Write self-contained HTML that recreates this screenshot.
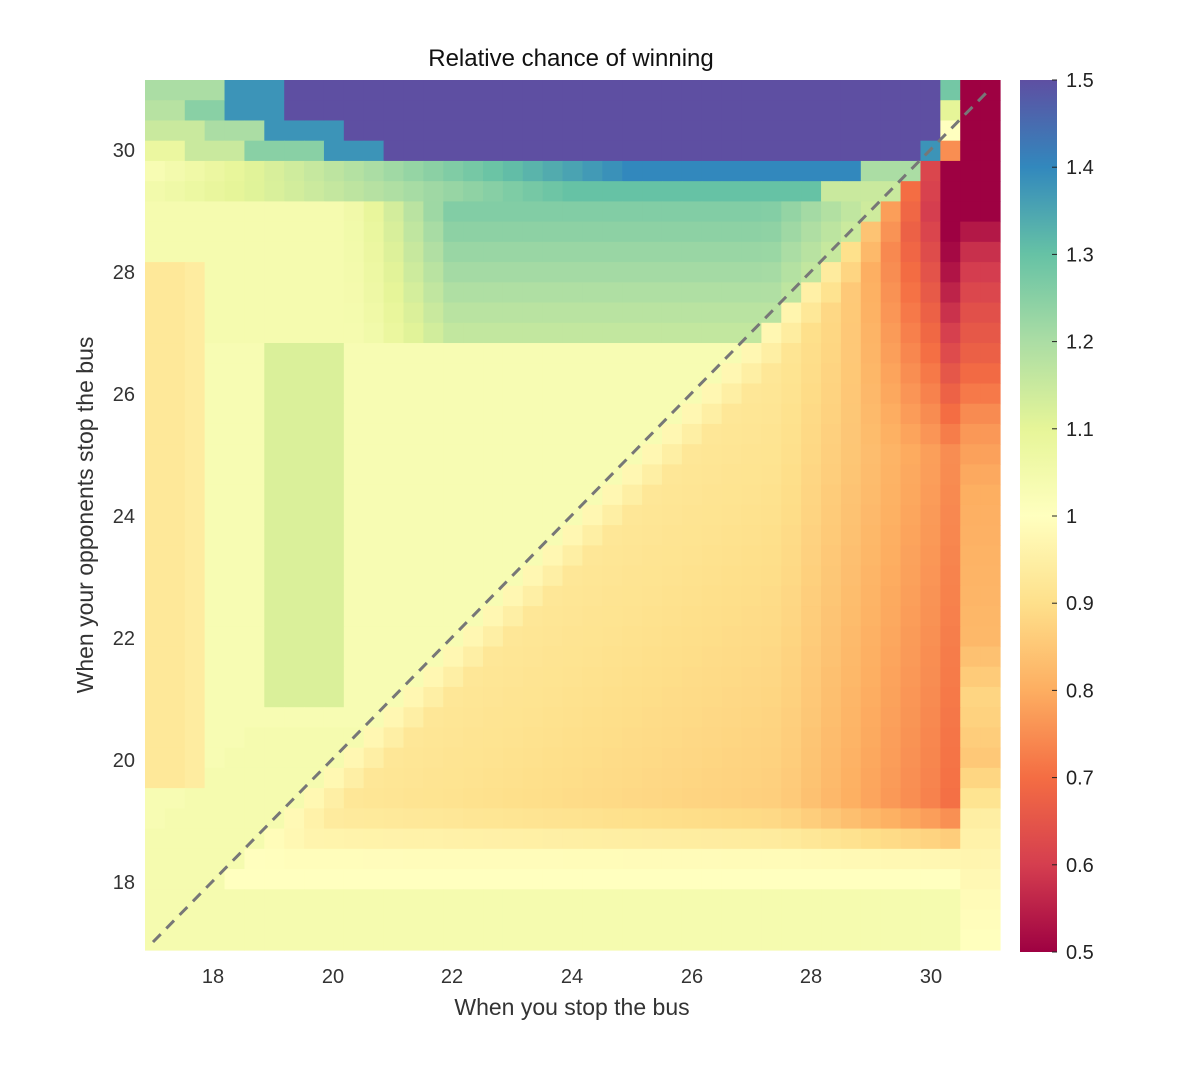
<!DOCTYPE html>
<html><head><meta charset="utf-8"><style>
body{margin:0;background:#fff;width:1200px;height:1070px;overflow:hidden;font-family:"Liberation Sans",sans-serif;}
</style></head><body>
<svg id="s" width="1200" height="1070" xmlns="http://www.w3.org/2000/svg">
<defs><linearGradient id="cb" x1="0" y1="1" x2="0" y2="0">
<stop offset="0" stop-color="#9e0142"/><stop offset="0.1" stop-color="#d53e4f"/><stop offset="0.2" stop-color="#f46d43"/><stop offset="0.3" stop-color="#fdae61"/><stop offset="0.4" stop-color="#fee08b"/><stop offset="0.5" stop-color="#ffffbf"/><stop offset="0.6" stop-color="#e6f598"/><stop offset="0.7" stop-color="#abdda4"/><stop offset="0.8" stop-color="#66c2a5"/><stop offset="0.9" stop-color="#3288bd"/><stop offset="1" stop-color="#5e4fa2"/>
</linearGradient></defs>
<g id="cells"></g>
<line x1="153" y1="942" x2="990" y2="89" stroke="#777" stroke-width="3" stroke-dasharray="11,8"/>
<text x="571" y="66" font-size="24" text-anchor="middle" fill="#111">Relative chance of winning</text>
<rect x="1020" y="80" width="37" height="872" fill="url(#cb)"/>
<g font-size="20" fill="#333" text-anchor="middle">
<text x="213" y="983">18</text><text x="333" y="983">20</text><text x="452" y="983">22</text><text x="572" y="983">24</text><text x="692" y="983">26</text><text x="811" y="983">28</text><text x="931" y="983">30</text>
</g>
<g font-size="20" fill="#333" text-anchor="end">
<text x="135" y="157">30</text><text x="135" y="279">28</text><text x="135" y="401">26</text><text x="135" y="523">24</text><text x="135" y="645">22</text><text x="135" y="767">20</text><text x="135" y="889">18</text>
</g>
<text x="572" y="1015" font-size="23" text-anchor="middle" fill="#333">When you stop the bus</text>
<text transform="translate(93,515) rotate(-90)" font-size="23" text-anchor="middle" fill="#333">When your opponents stop the bus</text>
<g font-size="20" fill="#222" id="cbt"></g>
</svg>
<script>
var stops=[[158,1,66],[213,62,79],[244,109,67],[253,174,97],[254,224,139],[255,255,191],[230,245,152],[171,221,164],[102,194,165],[50,136,189],[94,79,162]];
function col(v){var t=Math.max(0,Math.min(1,v-0.5))*10;var i=Math.min(9,Math.floor(t)),f=t-i;var a=stops[i],b=stops[i+1];
return 'rgb('+Math.round(a[0]+(b[0]-a[0])*f)+','+Math.round(a[1]+(b[1]-a[1])*f)+','+Math.round(a[2]+(b[2]-a[2])*f)+')';}
function cl(a,b,c){return Math.max(b,Math.min(c,a));}
function val(i,j,x,y){
 if(j==0){if(x<18.3)return 1.2;if(x<19.3)return 1.38;if(x<30.1)return 1.5;if(x<30.5)return 1.28;return 0.5;}
 if(j==1){if(x<17.6)return 1.18;if(x<18.3)return 1.25;if(x<19.3)return 1.38;if(x<30.1)return 1.5;if(x<30.5)return 1.1;return 0.5;}
 if(j==2){if(x<18)return 1.15;if(x<19)return 1.2;if(x<20.3)return 1.38;if(x<30.1)return 1.5;if(x<30.5)return 1.0;return 0.5;}
 if(j==3){if(x<17.5)return 1.08;if(x<18.5)return 1.15;if(x<20)return 1.25;if(x<21)return 1.38;if(x<29.8)return 1.5;if(x<30.1)return 1.38;if(x<30.5)return 0.75;return 0.5;}
 if(x>30.5){var r=[[31,0.5],[29,0.5],[28.3,0.58],[27.5,0.63],[26.5,0.68],[25.5,0.76],[24.5,0.8],[22,0.82],[21,0.88],[20,0.85],[19,0.95],[18,0.98],[16,1.02]];
  for(var k=0;k<r.length-1;k++){if(y<=r[k][0]&&y>=r[k+1][0]){var f=(y-r[k+1][0])/(r[k][0]-r[k+1][0]);return r[k+1][1]+(r[k][1]-r[k+1][1])*f;}}return 1;}
 var d=x-y,v;
 if(d>0.2){
  v=1-Math.min(d,1)*0.07-0.008*d-0.045*Math.max(0,x-27.5)-0.035*Math.max(0,y-25)*Math.max(0,x-28.5);
  if(x>30.1) v-=0.01+0.05*cl((y-25)/3,0,1);
  var f=cl((y-18.3)/0.9,0,1); v=1-(1-v)*f;
  if(y<18)v=1.04;
 } else {
  v=1.03;
  if(j==4){v=1.03+0.37*cl((x-17)/8,0,1); if(x>28.7)v=1.2;}
  else if(j==5){v=1.05+0.25*cl((x-17)/7,0,1); if(x>28.3)v=1.15;}
  else if(y>27){v=1.04+0.12*cl((x-20.5)/1.5,0,1)+0.05*(y-27)*cl((x-20)/2,0,1);if(x>27.3)v-=0.07*(x-27.3);}
  if(y<=27&&y>21&&x>18.7&&x<20.3)v=1.12;
  if(y<=28&&y>19.5&&x<18)v=0.92+0.04*Math.abs(x-17.2);
  if(y<20.5&&d>-2)v=1.04;
 }
 return v;
}
var g=document.getElementById('cells'),h='';
var W=855/43,H=870/43;
for(var j=0;j<43;j++)for(var i=0;i<43;i++){
 var x=16.86+(i+0.5)*0.3326,y=31.15-(j+0.5)*0.3316;
 h+='<rect x="'+(145+i*W).toFixed(2)+'" y="'+(80+j*H).toFixed(2)+'" width="'+(W+0.6).toFixed(2)+'" height="'+(H+0.6).toFixed(2)+'" fill="'+col(val(i,j,x,y))+'"/>';
}
g.innerHTML=h;
var t='',lab=['0.5','0.6','0.7','0.8','0.9','1','1.1','1.2','1.3','1.4','1.5'];
for(var k=0;k<11;k++){var yy=952-k*87.2;t+='<line x1="1052" x2="1057" y1="'+yy+'" y2="'+yy+'" stroke="#222"/><text x="1066" y="'+(yy+7)+'">'+lab[k]+'</text>';}
document.getElementById('cbt').innerHTML=t;
</script>
</body></html>
